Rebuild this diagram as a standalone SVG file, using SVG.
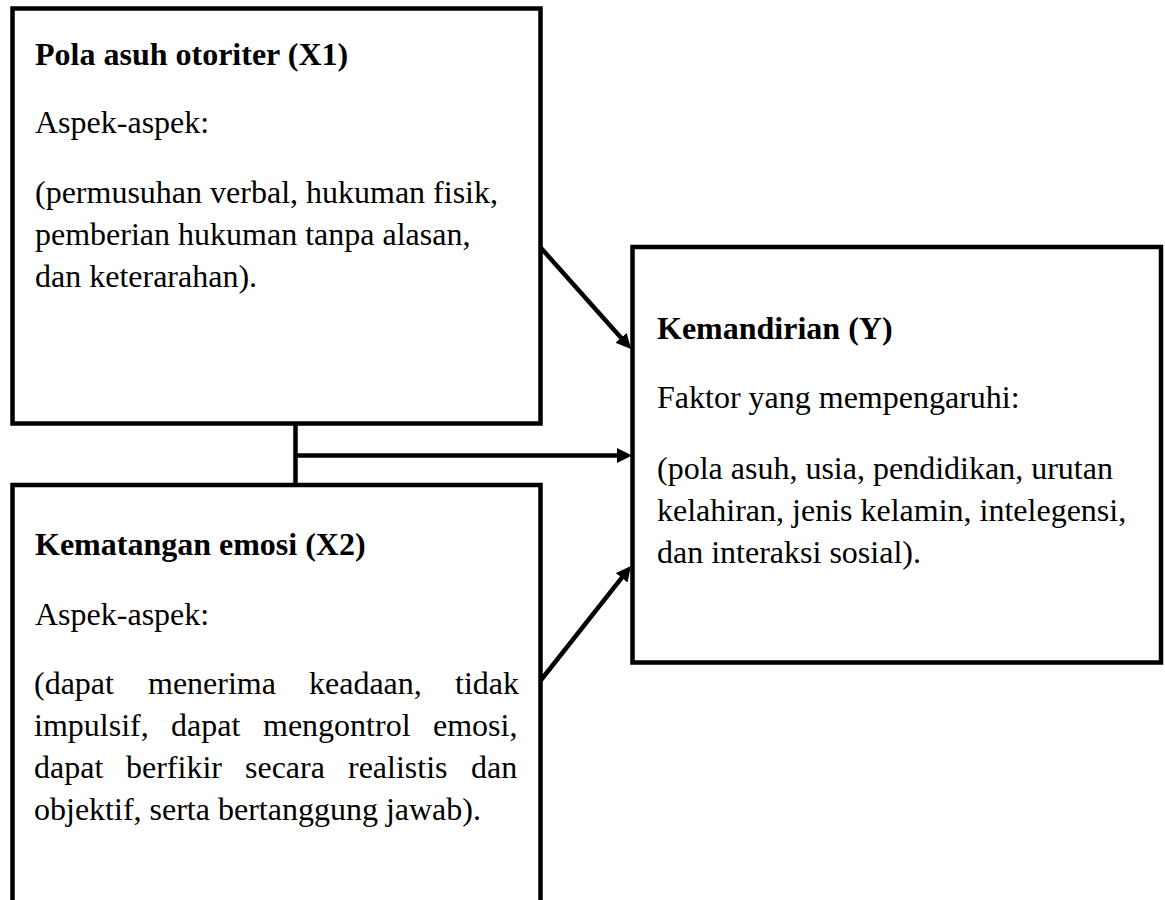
<svg xmlns="http://www.w3.org/2000/svg" width="1165" height="900" viewBox="0 0 1165 900">
<style>
.box{fill:#fff;stroke:#000;stroke-width:4.5}
.t{font-family:"Liberation Serif","Times New Roman",serif;font-size:32px;fill:#000}
.b{font-weight:bold}
.c{stroke:#000;stroke-width:4.5;fill:none}
</style>
<defs>
<marker id="ah" viewBox="0 0 15 15" refX="7" refY="7.5" markerWidth="15" markerHeight="15" markerUnits="userSpaceOnUse" orient="auto">
<path d="M0,0 L15,7.5 L0,15 z" fill="#000"/>
</marker>
</defs>
<rect width="1165" height="900" fill="#fff"/>
<g id="x1">
<rect class="box" x="12.5" y="8.5" width="528" height="415"/>
<text class="t b" x="35" y="65">Pola asuh otoriter (X1)</text>
<text class="t" x="35" y="133">Aspek-aspek:</text>
<text class="t" x="35" y="203">(permusuhan verbal, hukuman fisik,</text>
<text class="t" x="35" y="245">pemberian hukuman tanpa alasan,</text>
<text class="t" x="35" y="287">dan keterarahan).</text>
</g>
<g id="x2">
<rect class="box" x="12.5" y="485" width="528" height="430"/>
<text class="t b" x="35" y="555">Kematangan emosi (X2)</text>
<text class="t" x="35" y="625">Aspek-aspek:</text>
<text class="t" y="694"><tspan x="34">(dapat</tspan><tspan x="148">menerima</tspan><tspan x="309">keadaan,</tspan><tspan x="455">tidak</tspan></text>
<text class="t" y="736"><tspan x="34">impulsif,</tspan><tspan x="171">dapat</tspan><tspan x="263">mengontrol</tspan><tspan x="433">emosi,</tspan></text>
<text class="t" y="778"><tspan x="34">dapat</tspan><tspan x="126">berfikir</tspan><tspan x="245">secara</tspan><tspan x="348">realistis</tspan><tspan x="471">dan</tspan></text>
<text class="t" x="34" y="820">objektif, serta bertanggung jawab).</text>
</g>
<g id="y">
<rect class="box" x="632.5" y="247" width="528.5" height="415.5"/>
<text class="t b" x="657" y="339">Kemandirian (Y)</text>
<text class="t" x="657" y="408">Faktor yang mempengaruhi:</text>
<text class="t" x="657" y="479">(pola asuh, usia, pendidikan, urutan</text>
<text class="t" x="657" y="521">kelahiran, jenis kelamin, intelegensi,</text>
<text class="t" x="657" y="563">dan interaksi sosial).</text>
</g>
<g id="connectors">
<line class="c" x1="295.5" y1="424" x2="295.5" y2="485"/>
<line class="c" x1="295.5" y1="455.5" x2="624" y2="455.5" marker-end="url(#ah)"/>
<line class="c" x1="541" y1="248" x2="625.7" y2="343" marker-end="url(#ah)"/>
<line class="c" x1="541" y1="680" x2="626" y2="572.3" marker-end="url(#ah)"/>
</g>
</svg>
